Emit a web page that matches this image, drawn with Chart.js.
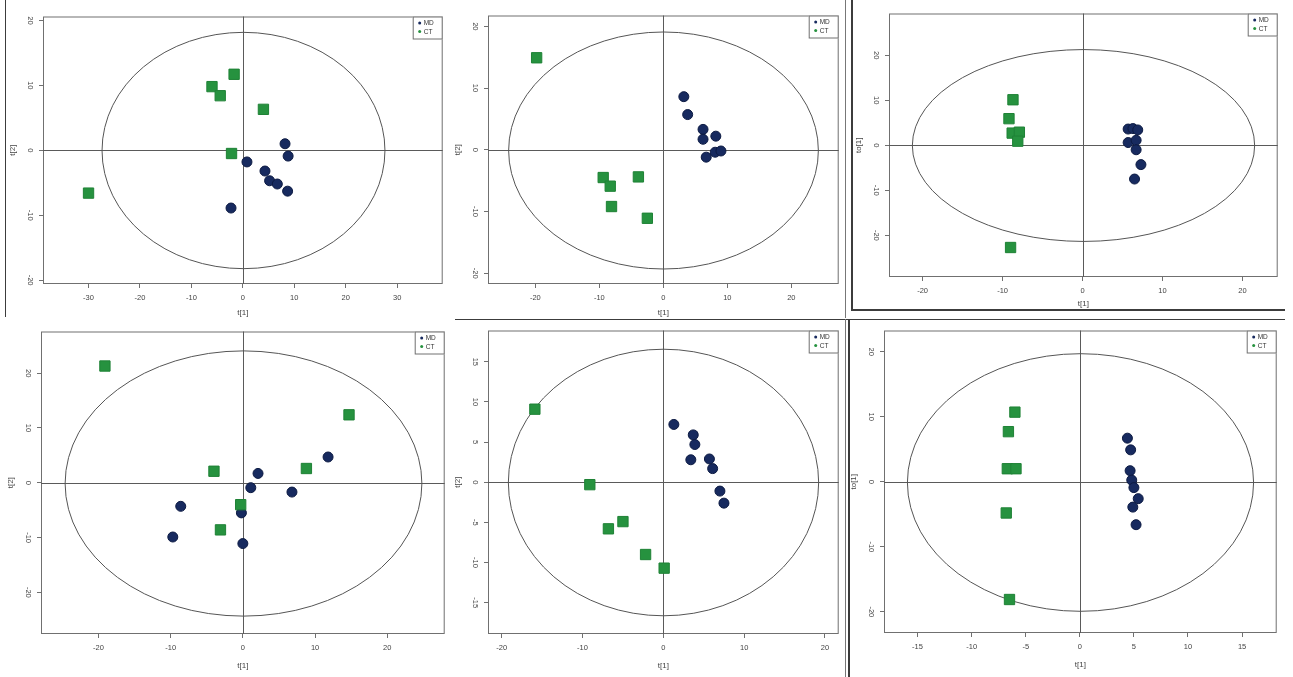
<!DOCTYPE html>
<html>
<head>
<meta charset="utf-8">
<title>PCA / OPLS-DA score plots</title>
<script src="https://cdn.jsdelivr.net/npm/chart.js@4"></script>
<style>
  body { margin: 0; background: #fff; }
  #sheet { position: relative; width: 1293px; height: 677px; overflow: hidden; background: #fff; }
  #sheet canvas { position: absolute; }
  .rule { position: absolute; background: #3c3c3c; }
</style>
</head>
<body>
<div id="sheet">
  <canvas id="plotA"></canvas>
  <canvas id="plotB"></canvas>
  <canvas id="plotC"></canvas>
  <canvas id="plotD"></canvas>
  <canvas id="plotE"></canvas>
  <canvas id="plotF"></canvas>

  <!-- panel separators -->
  <div class="rule" style="left:5px;top:0;width:1px;height:317px"></div>
  <div class="rule" style="left:845px;top:0;width:1px;height:318px;background:#777"></div>
  <div class="rule" style="left:851px;top:0;width:2px;height:311px"></div>
  <div class="rule" style="left:851px;top:309px;width:434px;height:2px"></div>
  <div class="rule" style="left:455px;top:319px;width:830px;height:1px"></div>
  <div class="rule" style="left:845px;top:319px;width:1px;height:358px;background:#777"></div>
  <div class="rule" style="left:848px;top:319px;width:2px;height:358px"></div>
</div>

<script>
// sample scores as [t1, t2] pairs, one array per group and panel
const mdA = [[8.2, 1.0], [8.8, -0.9], [0.8, -1.8], [4.3, -3.2], [5.2, -4.7], [6.7, -5.2], [8.7, -6.3], [-2.3, -8.9]];
const ctA = [[-30.0, -6.6], [-6.0, 9.8], [-4.4, 8.4], [-1.7, 11.7], [4.0, 6.3], [-2.2, -0.5]];

const mdB = [[3.2, 8.6], [3.8, 5.7], [6.2, 3.3], [6.2, 1.7], [8.2, 2.2], [6.7, -1.2], [8.1, -0.4], [9.0, -0.2]];
const ctB = [[-19.8, 14.9], [-9.4, -4.5], [-8.3, -5.9], [-8.1, -9.2], [-3.9, -4.4], [-2.5, -11.1]];

const mdC = [[5.7, 3.6], [6.3, 3.7], [6.9, 3.4], [5.7, 0.6], [6.7, 1.1], [6.7, -1.0], [7.3, -4.3], [6.5, -7.5]];
const ctC = [[-8.7, 10.1], [-9.2, 5.9], [-8.8, 2.7], [-7.9, 2.9], [-8.1, 0.9], [-9.0, -22.7]];

const mdD = [[-8.6, -4.3], [-9.7, -9.9], [-0.2, -5.5], [0.0, -11.1], [1.1, -0.9], [2.1, 1.7], [6.8, -1.7], [11.8, 4.7]];
const ctD = [[-19.1, 21.3], [-4.0, 2.1], [-0.3, -4.0], [-3.1, -8.6], [8.8, 2.6], [14.7, 12.4]];

const mdE = [[1.3, 7.2], [3.7, 5.9], [3.9, 4.7], [3.4, 2.8], [5.7, 2.9], [6.1, 1.7], [7.0, -1.1], [7.5, -2.6]];
const ctE = [[-15.9, 9.1], [-9.1, -0.3], [-6.8, -5.8], [-5.0, -4.9], [-2.2, -9.0], [0.1, -10.7]];

const mdF = [[4.4, 6.7], [4.7, 4.9], [4.65, 1.7], [4.8, 0.25], [5.0, -0.9], [5.4, -2.6], [4.9, -3.9], [5.2, -6.6]];
const ctF = [[-6.0, 10.7], [-6.6, 7.7], [-6.7, 2.0], [-5.9, 2.0], [-6.8, -4.8], [-6.5, -18.1]];

// axis limits, tick values and Hotelling ellipse radii
const ticksTen = [-30, -20, -10, 0, 10, 20, 30];
const ticksFive = [-15, -10, -5, 0, 5, 10, 15];
const ticksFiveWide = [-20, -15, -10, -5, 0, 5, 10, 15, 20];

const groupNames = ['MD', 'CT'];
const groupColors = ['#172a5f', '#26923f'];
const edgeColors = ['#0c1a42', '#1f8236'];
const FONT = "'Liberation Sans', Arial, Helvetica, sans-serif";

const panels = [
  { id: 'plotA', md: mdA, ct: ctA, xLim: [-38.85, 38.85], yLim: [-20.6, 20.6], xTicks: ticksTen, yTicks: [-20, -10, 0, 10, 20],
    ellipse: [27.5, 18.2], yTitle: 't[2]', box: { l: 43, r: 449, t: 10, b: 284 }, xH: 34 },
  { id: 'plotB', md: mdB, ct: ctB, xLim: [-27.4, 27.4], yLim: [-21.75, 21.75], xTicks: [-20, -10, 0, 10, 20], yTicks: [-20, -10, 0, 10, 20],
    ellipse: [24.2, 19.2], yTitle: 't[2]', box: { l: 488, r: 845, t: 9, b: 284 }, xH: 34 },
  { id: 'plotC', md: mdC, ct: ctC, xLim: [-24.2, 24.4], yLim: [-29.25, 29.25], xTicks: [-20, -10, 0, 10, 20], yTicks: [-20, -10, 0, 10, 20],
    ellipse: [21.4, 21.3], yTitle: 'to[1]', box: { l: 889, r: 1284, t: 7, b: 277 }, xH: 32 },
  { id: 'plotD', md: mdD, ct: ctD, xLim: [-27.95, 27.95], yLim: [-27.6, 27.6], xTicks: [-20, -10, 0, 10, 20], yTicks: [-20, -10, 0, 10, 20],
    ellipse: [24.7, 24.2], yTitle: 't[2]', box: { l: 41, r: 451, t: 325, b: 634 }, xH: 37 },
  { id: 'plotE', md: mdE, ct: ctE, xLim: [-21.7, 21.7], yLim: [-18.9, 18.9], xTicks: [-20, -10, 0, 10, 20], yTicks: ticksFive,
    ellipse: [19.2, 16.6], yTitle: 't[2]', box: { l: 488, r: 845, t: 324, b: 634 }, xH: 37 },
  { id: 'plotF', md: mdF, ct: ctF, xLim: [-18.1, 18.2], yLim: [-23.25, 23.25], xTicks: ticksFive, yTicks: [-20, -10, 0, 10, 20],
    ellipse: [16.0, 19.8], yTitle: 'to[1]', box: { l: 884, r: 1283, t: 324, b: 633 }, xH: 37 }
];

const Y_AXIS_W = 40;

// frame, zero cross-hair, T2 ellipse and the small R-style legend
const scoreFrame = {
  id: 'scoreFrame',
  beforeDatasetsDraw(chart, args, opts) {
    const { ctx, chartArea: a, scales: { x, y } } = chart;
    const cx = Math.round(x.getPixelForValue(0)) + 0.5;
    const cy = Math.round(y.getPixelForValue(0)) + 0.5;
    ctx.save();
    ctx.strokeStyle = '#707070';
    ctx.lineWidth = 1;
    ctx.strokeRect(a.left + 0.5, a.top + 0.5, a.width - 1, a.height - 1);
    ctx.strokeStyle = '#5a5a5a';
    ctx.beginPath();
    ctx.moveTo(a.left, cy); ctx.lineTo(a.right, cy);
    ctx.moveTo(cx, a.top); ctx.lineTo(cx, a.bottom);
    ctx.stroke();
    const rx = x.getPixelForValue(opts.rx) - x.getPixelForValue(0);
    const ry = y.getPixelForValue(0) - y.getPixelForValue(opts.ry);
    ctx.strokeStyle = '#555';
    ctx.beginPath();
    ctx.ellipse(cx, cy, rx, ry, 0, 0, Math.PI * 2);
    ctx.stroke();
    ctx.restore();
  },
  afterDraw(chart) {
    const { ctx, chartArea: a } = chart;
    const w = 30, h = 23;
    const left = a.right - w, top = a.top;
    ctx.save();
    ctx.fillStyle = '#fff';
    ctx.fillRect(left, top, w, h);
    ctx.strokeStyle = '#707070';
    ctx.lineWidth = 1;
    ctx.strokeRect(left + 0.5, top + 0.5, w - 1, h - 1);
    ctx.font = '6.5px ' + FONT;
    ctx.textBaseline = 'middle';
    chart.data.datasets.forEach((ds, i) => {
      const ly = top + 6.5 + i * 8.5;
      ctx.fillStyle = ds.backgroundColor;
      ctx.beginPath();
      ctx.arc(left + 7, ly, 1.5, 0, Math.PI * 2);
      ctx.fill();
      ctx.fillStyle = '#333';
      ctx.fillText(ds.label, left + 11, ly + 0.5);
    });
    ctx.restore();
  }
};

function buildScorePlot(p) {
  const canvas = document.getElementById(p.id);
  const w = (p.box.r - p.box.l) + Y_AXIS_W + 2;
  const h = (p.box.b - p.box.t) + 2 + p.xH;
  canvas.width = w;
  canvas.height = h;
  canvas.style.left = (p.box.l - Y_AXIS_W) + 'px';
  canvas.style.top = (p.box.t - 2) + 'px';

  const tickFont = { family: FONT, size: 7.5 };
  const toPoints = arr => arr.map(([x, y]) => ({ x, y }));

  new Chart(canvas, {
    type: 'scatter',
    data: {
      datasets: [
        {
          label: groupNames[0],
          data: toPoints(p.md),
          backgroundColor: groupColors[0],
          borderColor: edgeColors[0],
          borderWidth: 1,
          pointStyle: 'circle',
          pointRadius: 5,
          order: 2
        },
        {
          label: groupNames[1],
          data: toPoints(p.ct),
          backgroundColor: groupColors[1],
          borderColor: edgeColors[1],
          borderWidth: 1,
          pointStyle: 'rect',
          pointRadius: 7.3,
          order: 1
        }
      ]
    },
    options: {
      responsive: false,
      animation: false,
      events: [],
      layout: { padding: { top: 2, right: 2, left: 0, bottom: 0 } },
      plugins: {
        legend: { display: false },
        tooltip: { enabled: false },
        scoreFrame: { rx: p.ellipse[0], ry: p.ellipse[1] }
      },
      scales: {
        x: {
          type: 'linear',
          min: p.xLim[0],
          max: p.xLim[1],
          afterBuildTicks: s => { s.ticks = p.xTicks.map(v => ({ value: v })); },
          afterFit: s => { s.height = p.xH; },
          ticks: { font: tickFont, color: '#444', padding: 5, maxRotation: 0, autoSkip: false },
          grid: { drawOnChartArea: false, drawTicks: true, tickLength: 4, tickColor: '#707070' },
          border: { display: false },
          title: { display: true, text: 't[1]', font: { family: FONT, size: 8 }, color: '#444', padding: { top: 0, bottom: 0.5 } }
        },
        y: {
          type: 'linear',
          min: p.yLim[0],
          max: p.yLim[1],
          afterBuildTicks: s => { s.ticks = p.yTicks.map(v => ({ value: v })); },
          afterFit: s => { s.width = Y_AXIS_W; },
          ticks: { font: tickFont, color: '#444', padding: 4, minRotation: -90, crossAlign: 'center', autoSkip: false },
          grid: { drawOnChartArea: false, drawTicks: true, tickLength: 4, tickColor: '#707070' },
          border: { display: false },
          title: { display: true, text: p.yTitle, font: { family: FONT, size: 8 }, color: '#444', padding: { top: 4.5, bottom: 0 } }
        }
      }
    },
    plugins: [scoreFrame]
  });
}

panels.forEach(buildScorePlot);
</script>
</body>
</html>
